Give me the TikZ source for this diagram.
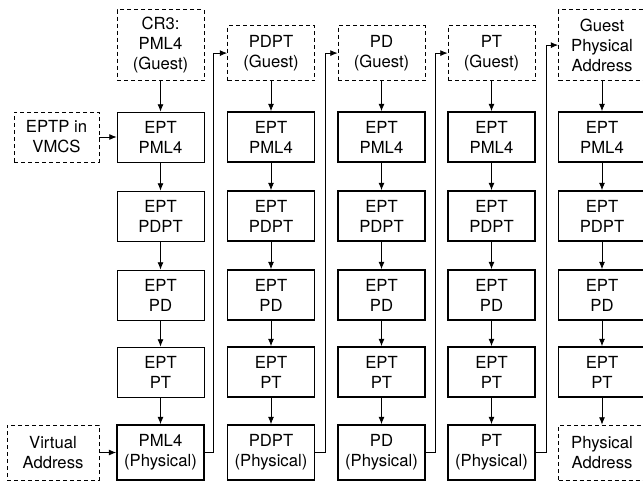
\documentclass[tikz,border=0pt]{standalone}
\usepackage{fontspec}
\setmainfont{TeX Gyre Heros}
\usetikzlibrary{arrows.meta}

\tikzset{
  box/.style={draw,minimum width=65.25pt,minimum height=37.5pt},
  ept/.style={box,line width=1.3pt},
  phys/.style={box,line width=1.3pt,minimum height=41.25pt},
  guest/.style={box,dash pattern=on 3pt off 2.25pt,minimum height=41.25pt},
}

\begin{document}
\begin{tikzpicture}[x=.75pt,y=-.75pt,line width=.6pt,>={Latex[length=5.5pt,width=4.5pt]},
  every node/.style={align=center,inner sep=0pt,font=\fontsize{12.5}{15}\selectfont}]
\useasboundingbox(0,0)rectangle(643,483);
% column 1
\node[guest,minimum height=53.25pt,anchor=south](G1)at(160.5,81){CR3:\\PML4\\(Guest)};
\node[box](A1)at(160.5,137){EPT\\PML4};
\node[box](B1)at(160.5,216){EPT\\PDPT};
\node[box](C1)at(160.5,295){EPT\\PD};
\node[box](D1)at(160.5,372){EPT\\PT};
\node[phys](P1)at(160.5,452.5){PML4\\(Physical)};
\node[guest,minimum width=63.75pt,minimum height=37.5pt](E)at(56.5,137){EPTP in\\VMCS};
\node[guest,minimum width=69pt](V)at(53,452.5){Virtual\\Address};
% column 2
\node[guest,anchor=south](G2)at(271,81){PDPT\\(Guest)};
\node[ept](A2)at(271,137){EPT\\PML4};
\node[ept](B2)at(271,216){EPT\\PDPT};
\node[ept](C2)at(271,295){EPT\\PD};
\node[ept](D2)at(271,372){EPT\\PT};
\node[phys](P2)at(271,452.5){PDPT\\(Physical)};
% column 3
\node[guest,anchor=south](G3)at(381.5,81){PD\\(Guest)};
\node[ept](A3)at(381.5,137){EPT\\PML4};
\node[ept](B3)at(381.5,216){EPT\\PDPT};
\node[ept](C3)at(381.5,295){EPT\\PD};
\node[ept](D3)at(381.5,372){EPT\\PT};
\node[phys](P3)at(381.5,452.5){PD\\(Physical)};
% column 4
\node[guest,anchor=south](G4)at(491.5,81){PT\\(Guest)};
\node[ept](A4)at(491.5,137){EPT\\PML4};
\node[ept](B4)at(491.5,216){EPT\\PDPT};
\node[ept](C4)at(491.5,295){EPT\\PD};
\node[ept](D4)at(491.5,372){EPT\\PT};
\node[phys](P4)at(491.5,452.5){PT\\(Physical)};
% column 5
\node[guest,minimum height=53.25pt,anchor=south](G5)at(602,81){Guest\\Physical\\Address};
\node[ept](A5)at(602,137){EPT\\PML4};
\node[ept](B5)at(602,216){EPT\\PDPT};
\node[ept](C5)at(602,295){EPT\\PD};
\node[ept](D5)at(602,372){EPT\\PT};
\node[guest](P5)at(602,452.5){Physical\\Address};
\begin{scope}[->]
\draw(E)--(A1);
\draw(V)--(P1);
\draw(G1)--(A1);
\draw(A1)--(B1);
\draw(B1)--(C1);
\draw(C1)--(D1);
\draw(D1)--(P1);
\draw(G2)--(A2);
\draw(A2)--(B2);
\draw(B2)--(C2);
\draw(C2)--(D2);
\draw(D2)--(P2);
\draw(G3)--(A3);
\draw(A3)--(B3);
\draw(B3)--(C3);
\draw(C3)--(D3);
\draw(D3)--(P3);
\draw(G4)--(A4);
\draw(A4)--(B4);
\draw(B4)--(C4);
\draw(C4)--(D4);
\draw(D4)--(P4);
\draw(G5)--(A5);
\draw(A5)--(B5);
\draw(B5)--(C5);
\draw(C5)--(D5);
\draw(D5)--(P5);
% physical table feeds the next guest level
\draw(P1.east)--++(9,0)|-(G2.west);
\draw(P2.east)--++(10,0)|-(G3.west);
\draw(P3.east)--++(10,0)|-(G4.west);
\draw(P4.east)--++(11,0)|-(G5.west);
\end{scope}
\end{tikzpicture}
\end{document}
